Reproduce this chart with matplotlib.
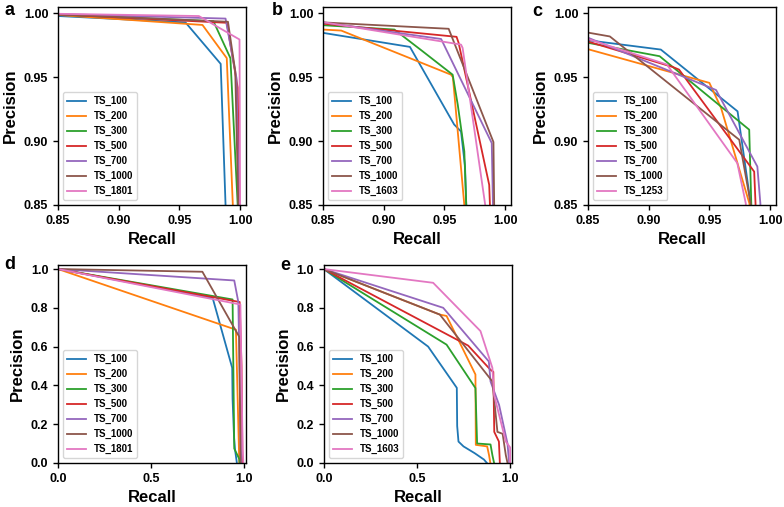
import matplotlib
matplotlib.use("Agg")
import matplotlib.pyplot as plt

plt.rcParams['font.family'] = ['Liberation Sans', 'DejaVu Sans']
plt.rcParams['font.weight'] = 'bold'

colors = ['#1f77b4', '#ff7f0e', '#2ca02c', '#d62728', '#9467bd', '#8c564b', '#e377c2']

# ---- panel a (zoomed, set 1)
a_labels = ['TS_100', 'TS_200', 'TS_300', 'TS_500', 'TS_700', 'TS_1000', 'TS_1801']
a_recall = [
    [0.84, 0.955, 0.984, 0.988, 0.99],
    [0.84, 0.969, 0.989, 0.994, 0.995],
    [0.84, 0.978, 0.992, 0.998, 0.999],
    [0.84, 0.989, 0.998, 0.9995, 1.0],
    [0.84, 0.988, 0.997, 0.999, 1.0],
    [0.84, 0.990, 0.996, 0.9985, 1.0],
    [0.84, 0.966, 0.9995, 1.0, 1.0],
]
a_precision = [
    [0.9985, 0.993, 0.9605, 0.85, 0.80],
    [0.9995, 0.991, 0.965, 0.85, 0.80],
    [0.9995, 0.994, 0.965, 0.85, 0.80],
    [0.9997, 0.9927, 0.942, 0.85, 0.80],
    [0.9998, 0.996, 0.9495, 0.85, 0.80],
    [0.9997, 0.9935, 0.9547, 0.85, 0.80],
    [0.9999, 0.998, 0.9796, 0.85, 0.80],
]

# ---- panel b (zoomed, set 2)
b_labels = ['TS_100', 'TS_200', 'TS_300', 'TS_500', 'TS_700', 'TS_1000', 'TS_1603']
b_recall = [
    [0.85, 0.9216, 0.958, 0.9637, 0.967, 0.968, 0.97],
    [0.85, 0.865, 0.9555, 0.957, 0.9664, 0.968],
    [0.85, 0.9088, 0.932, 0.9568, 0.961, 0.9664, 0.968, 0.969],
    [0.85, 0.960, 0.9617, 0.9869, 0.9875, 0.988],
    [0.85, 0.9473, 0.989, 0.990, 0.991],
    [0.85, 0.9535, 0.9904, 0.991, 0.992],
    [0.85, 0.9637, 0.965, 0.9836, 0.986],
]
b_precision = [
    [0.9848, 0.9738, 0.913, 0.9075, 0.88, 0.85, 0.80],
    [0.9874, 0.9866, 0.952, 0.950, 0.85, 0.80],
    [0.9908, 0.9874, 0.9704, 0.952, 0.9285, 0.892, 0.85, 0.80],
    [0.992, 0.9817, 0.977, 0.8657, 0.85, 0.80],
    [0.993, 0.980, 0.8984, 0.85, 0.80],
    [0.993, 0.988, 0.8992, 0.85, 0.80],
    [0.9932, 0.9756, 0.973, 0.85, 0.80],
]

# ---- panel c (zoomed, set 3)
c_labels = ['TS_100', 'TS_200', 'TS_300', 'TS_500', 'TS_700', 'TS_1000', 'TS_1253']
c_recall = [
    [0.85, 0.910, 0.9732, 0.984, 0.986],
    [0.85, 0.950, 0.9596, 0.983, 0.985],
    [0.85, 0.909, 0.9828, 0.9845, 0.986],
    [0.85, 0.920, 0.925, 0.9869, 0.988, 0.989],
    [0.85, 0.9555, 0.9895, 0.992, 0.993],
    [0.85, 0.868, 0.9746, 0.984, 0.986],
    [0.85, 0.915, 0.973, 0.980, 0.981],
]
c_precision = [
    [0.979, 0.9717, 0.9233, 0.851, 0.80],
    [0.972, 0.9456, 0.926, 0.851, 0.80],
    [0.977, 0.9665, 0.9089, 0.851, 0.80],
    [0.978, 0.958, 0.956, 0.876, 0.851, 0.80],
    [0.981, 0.940, 0.880, 0.851, 0.80],
    [0.985, 0.982, 0.901, 0.851, 0.80],
    [0.980, 0.960, 0.8827, 0.851, 0.80],
]

# ---- panel d (full range, set 1)
d_labels = a_labels
d_recall = [
    [0.0, 0.83, 0.935, 0.937, 0.945, 0.95, 0.96],
    [0.0, 0.955, 0.973],
    [0.0, 0.937, 0.946, 0.973, 0.975],
    [0.0, 0.975, 0.985, 0.99],
    [0.0, 0.946, 0.968, 0.983],
    [0.0, 0.775, 0.973, 0.98],
    [0.0, 0.979, 0.991, 0.995],
]
d_precision = [
    [1.0, 0.851, 0.49, 0.33, 0.13, 0.07, 0.0],
    [1.0, 0.687, 0.0],
    [1.0, 0.843, 0.074, 0.02, 0.0],
    [1.0, 0.83, 0.5, 0.0],
    [1.0, 0.941, 0.829, 0.0],
    [1.0, 0.986, 0.65, 0.0],
    [1.0, 0.817, 0.07, 0.0],
]

# ---- panel e (full range, set 2)
e_labels = b_labels
e_recall = [
    [0.0, 0.56, 0.714, 0.716, 0.723, 0.75, 0.81, 0.86, 0.875],
    [0.0, 0.623, 0.659, 0.814, 0.816, 0.877, 0.887, 0.894],
    [0.0, 0.659, 0.814, 0.823, 0.895, 0.905, 0.914],
    [0.0, 0.775, 0.895, 0.91, 0.915, 0.94, 0.945],
    [0.0, 0.641, 0.886, 0.895, 0.941, 0.986, 0.995],
    [0.0, 0.623, 0.905, 0.932, 0.96, 0.977, 0.986],
    [0.0, 0.587, 0.841, 0.905, 0.914, 0.959, 0.977, 1.0, 1.0],
]
e_precision = [
    [1.0, 0.60, 0.387, 0.19, 0.11, 0.085, 0.05, 0.017, 0.0],
    [1.0, 0.765, 0.758, 0.456, 0.093, 0.085, 0.04, 0.0],
    [1.0, 0.61, 0.386, 0.10, 0.095, 0.04, 0.0],
    [1.0, 0.605, 0.48, 0.47, 0.16, 0.11, 0.0],
    [1.0, 0.80, 0.523, 0.42, 0.299, 0.10, 0.0],
    [1.0, 0.765, 0.42, 0.16, 0.15, 0.04, 0.0],
    [1.0, 0.929, 0.68, 0.49, 0.351, 0.179, 0.11, 0.08, 0.0],
]

fig = plt.figure(figsize=(7.84, 5.07), dpi=100)

panels = [
    ('a', [0.074, 0.596, 0.240, 0.390], a_recall, a_precision, a_labels, 'zoom', (0.006, 0.980)),
    ('b', [0.412, 0.596, 0.240, 0.390], b_recall, b_precision, b_labels, 'zoom', (0.347, 0.980)),
    ('c', [0.750, 0.596, 0.240, 0.390], c_recall, c_precision, c_labels, 'zoom', (0.679, 0.978)),
    ('d', [0.074, 0.087, 0.240, 0.390], d_recall, d_precision, d_labels, 'full', (0.006, 0.479)),
    ('e', [0.413, 0.087, 0.240, 0.390], e_recall, e_precision, e_labels, 'full', (0.358, 0.476)),
]

for letter, rect, rec, prec, labels, kind, lpos in panels:
    ax = fig.add_axes(rect)
    for i in range(len(labels)):
        ax.plot(rec[i], prec[i], color=colors[i], lw=1.3, label=labels[i])
    if kind == 'zoom':
        ax.set_xlim(0.85, 1.005)
        ax.set_ylim(0.85, 1.005)
        ax.set_xticks([0.85, 0.90, 0.95, 1.00])
        ax.set_yticks([0.85, 0.90, 0.95, 1.00])
        ax.set_xticklabels(['0.85', '0.90', '0.95', '1.00'])
        ax.set_yticklabels(['0.85', '0.90', '0.95', '1.00'])
    else:
        ax.set_xlim(0.0, 1.01)
        ax.set_ylim(0.0, 1.02)
        ax.set_xticks([0.0, 0.5, 1.0])
        ax.set_yticks([0.0, 0.2, 0.4, 0.6, 0.8, 1.0])
    ax.tick_params(labelsize=9, length=3.5, width=1)
    for s in ax.spines.values():
        s.set_linewidth(1.0)
    ax.set_xlabel('Recall', fontsize=12, fontweight='bold')
    ax.set_ylabel('Precision', fontsize=12, fontweight='bold')
    ax.legend(loc='lower left', prop={'size': 7, 'weight': 'bold'})
    fig.text(lpos[0], lpos[1], letter, fontsize=13, fontweight='bold', va='center', ha='left')

fig.savefig('out.png', dpi=100)
